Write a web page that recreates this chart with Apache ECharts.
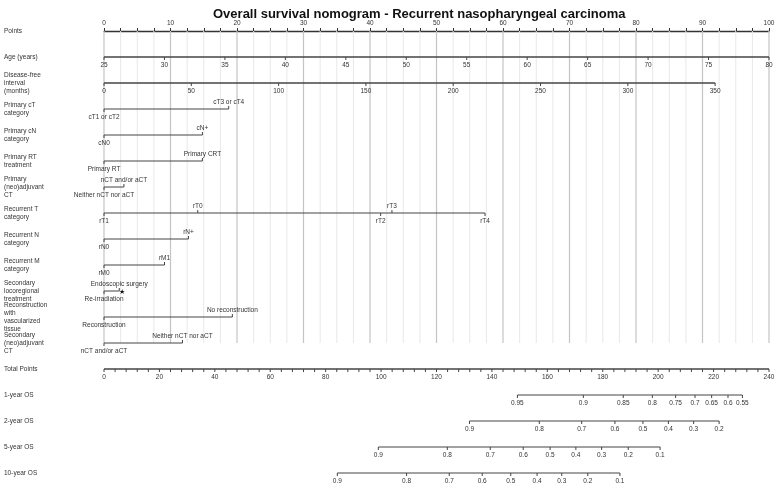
<!DOCTYPE html>
<html><head><meta charset="utf-8">
<script src="https://cdn.jsdelivr.net/npm/echarts@6/dist/echarts.min.js"></script>
<style>html,body{margin:0;padding:0;background:#fff}#c{width:779px;height:488px}</style>
</head><body><div id="c"></div>
<script>
// ---------- data ----------
const rowNames = ['Points','Age (years)','Disease-free\ninterval\n(months)','Primary cT\ncategory','Primary cN\ncategory',
  'Primary RT\ntreatment','Primary\n(neo)adjuvant\nCT','Recurrent T\ncategory','Recurrent N\ncategory','Recurrent M\ncategory',
  'Secondary\nlocoregional\ntreatment','Reconstruction\nwith\nvascularized\ntissue','Secondary\n(neo)adjuvant\nCT',
  'Total Points','1-year OS','2-year OS','5-year OS','10-year OS'];

const ageTicks = [25,30,35,40,45,50,55,60,65,70,75,80];
const ageRange = [25,80];              // age at 0 and at 100 points
const dfiTicks = [0,50,100,150,200,250,300,350];
const dfiMaxMonths = 350, dfiMaxPoints = 91.9;
const totalTicks = [0,20,40,60,80,100,120,140,160,180,200,220,240];
const totalMax = 240, totalMinorStep = 4;

const cTLevels = ['cT1 or cT2','cT3 or cT4'];           const cTPoints = [0,18.75];
const cNLevels = ['cN0','cN+'];                         const cNPoints = [0,14.8];
const rtLevels = ['Primary RT','Primary CRT'];          const rtPoints = [0,14.8];
const pctLevels = ['Neither nCT nor aCT','nCT and/or aCT']; const pctPoints = [0,3.0];
const rTLevels = ['rT1','rT0','rT2','rT3','rT4'];       const rTPoints = [0,14.1,41.6,43.3,57.3];
const rNLevels = ['rN0','rN+'];                         const rNPoints = [0,12.7];
const rMLevels = ['rM0','rM1'];                         const rMPoints = [0,9.1];
const locLevels = ['Re-irradiation','Endoscopic surgery']; const locPoints = [0,2.3];
const recLevels = ['Reconstruction','No reconstruction'];  const recPoints = [0,19.3];
const sctLevels = ['nCT and/or aCT','Neither nCT nor aCT']; const sctPoints = [0,11.8];
const starNote = {row:10, points:2.75, text:'★'};

const os1Labels = ['0.95','0.9','0.85','0.8','0.75','0.7','0.65','0.6','0.55'];
const os1Total  = [149.2,173.0,187.4,197.9,206.3,213.3,219.3,225.2,230.4];
const os2Labels = ['0.9','0.8','0.7','0.6','0.5','0.4','0.3','0.2'];
const os2Total  = [131.9,157.1,172.4,184.4,194.5,203.7,212.8,222.0];
const os5Labels = ['0.9','0.8','0.7','0.6','0.5','0.4','0.3','0.2','0.1'];
const os5Total  = [99.0,123.9,139.4,151.3,161.0,170.3,179.6,189.2,200.7];
const os10Labels = ['0.9','0.8','0.7','0.6','0.5','0.4','0.3','0.2','0.1'];
const os10Total  = [84.2,109.2,124.6,136.5,146.8,156.3,165.2,174.6,186.2];

// ---------- build rows ----------
const FONT = 'Liberation Sans, Arial, sans-serif';
const TXT = '#333';
const rows = [];
rows.push({row:1, from:0, to:100, w:1.3, ticks: ageTicks.map(v=>({p:(v-ageRange[0])/(ageRange[1]-ageRange[0])*100, label:String(v), side:'below'}))});
rows.push({row:2, from:0, to:dfiMaxPoints, w:1.3, ticks: dfiTicks.map(v=>({p:v/dfiMaxMonths*dfiMaxPoints, label:String(v), side:'below'}))});
function cat(row, levels, pts){
  const idx = levels.map((l,i)=>i).sort((a,b)=>pts[a]-pts[b]);
  const ticks = idx.map((i,k)=>({p:pts[i], label:levels[i], side: k%2===0?'below':'above'}));
  rows.push({row, from:Math.min(...pts), to:Math.max(...pts), w:1, ticks});
}
cat(3,cTLevels,cTPoints); cat(4,cNLevels,cNPoints); cat(5,rtLevels,rtPoints); cat(6,pctLevels,pctPoints);
cat(7,rTLevels,rTPoints); cat(8,rNLevels,rNPoints); cat(9,rMLevels,rMPoints); cat(10,locLevels,locPoints);
cat(11,recLevels,recPoints); cat(12,sctLevels,sctPoints);
const tScale = v => v/totalMax*100;
const totTicks = [];
for (let v=0; v<=totalMax; v+=totalMinorStep) totTicks.push({p:tScale(v), label: totalTicks.includes(v)?String(v):'', side:'below'});
rows.push({row:13, from:0, to:100, w:1.3, ticks: totTicks});
function surv(row, labels, tot){
  rows.push({row, from:tScale(Math.min(...tot)), to:tScale(Math.max(...tot)), w:1,
    ticks: labels.map((l,i)=>({p:tScale(tot[i]), label:l, side:'below'}))});
}
surv(14,os1Labels,os1Total); surv(15,os2Labels,os2Total); surv(16,os5Labels,os5Total); surv(17,os10Labels,os10Total);

const grid = [];
for (let p=0; p<=100; p+=2.5) grid.push([p, Math.abs(p%10)<1e-9 ? 1 : 0]);

// ---------- chart ----------
const chart = echarts.init(document.getElementById('c'), null, {renderer:'canvas'});
chart.setOption({
  animation:false,
  backgroundColor:'#fff',
  title:{text:'Overall survival nomogram - Recurrent nasopharyngeal carcinoma', left:208, top:3,
    textStyle:{fontFamily:FONT, fontSize:13, fontWeight:'bold', color:'#111'}},
  grid:{left:104, right:10, top:31, bottom:15, containLabel:false},
  xAxis:{type:'value', position:'top', min:0, max:100, interval:10,
    axisLine:{show:true, lineStyle:{color:'#333', width:1.3}},
    axisTick:{show:true, length:3, lineStyle:{color:'#333'}},
    minorTick:{show:true, splitNumber:4, length:3, lineStyle:{color:'#333'}},
    splitLine:{show:false},
    axisLabel:{fontFamily:FONT, fontSize:6.5, color:TXT, margin:4, showMinLabel:true, showMaxLabel:true}},
  yAxis:{type:'value', min:0, max:17, interval:1, inverse:true,
    axisLine:{show:false}, axisTick:{show:false}, splitLine:{show:false},
    axisLabel:{fontFamily:FONT, fontSize:6.5, lineHeight:8, color:TXT, align:'left', margin:100,
      showMinLabel:true, showMaxLabel:true, formatter: v => rowNames[v] || ''}},
  series:[
    {type:'custom', z:1, clip:false, data:grid,
      renderItem:(params, api)=>{
        const p = api.value(0), major = api.value(1);
        const a = api.coord([p,0]), b = api.coord([p,12]);
        return {type:'line', shape:{x1:a[0],y1:a[1],x2:b[0],y2:b[1]},
          style:{stroke: major? '#c4c4c4':'#e8e8e8', lineWidth: major?1.2:1}};
      }},
    {type:'custom', z:3, clip:false, data: rows.map((r,i)=>[i]),
      renderItem:(params, api)=>{
        const r = rows[params.dataIndex];
        const a = api.coord([r.from, r.row]), b = api.coord([r.to, r.row]);
        const children = [{type:'line', shape:{x1:a[0],y1:a[1],x2:b[0],y2:b[1]}, style:{stroke:'#444', lineWidth:r.w}}];
        r.ticks.forEach(t=>{
          const c = api.coord([t.p, r.row]);
          const dir = t.side==='above' ? -1 : 1;
          children.push({type:'line', shape:{x1:c[0],y1:c[1],x2:c[0],y2:c[1]+dir*3}, style:{stroke:'#444', lineWidth:1}});
          if (t.label) children.push({type:'text', style:{text:t.label, x:c[0], y:c[1]+(dir>0?8:-7),
            align:'center', verticalAlign:'middle', font:'6.5px '+FONT, fill:TXT}});
        });
        if (r.row===starNote.row) {
          const s = api.coord([starNote.points, starNote.row]);
          children.push({type:'text', style:{text:starNote.text, x:s[0], y:s[1]+1, align:'center', verticalAlign:'middle', font:'7px '+FONT, fill:'#111'}});
        }
        return {type:'group', children};
      }}
  ]
});
</script></body></html>
